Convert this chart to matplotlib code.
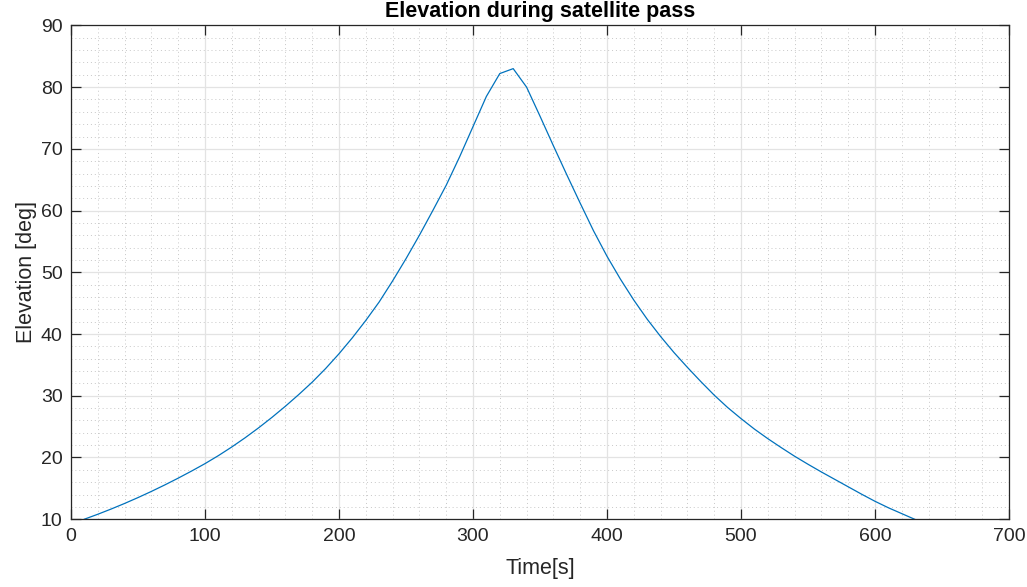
import numpy as np
import matplotlib.pyplot as plt
from matplotlib.ticker import MultipleLocator

plt.rcParams['font.family'] = ['Liberation Sans', 'DejaVu Sans']

time_s = np.arange(10, 640, 10)
elev_deg = [10.0, 10.8, 11.65, 12.55, 13.5, 14.5, 15.55, 16.65, 17.8, 19.0,
            20.3, 21.7, 23.2, 24.8, 26.5, 28.3, 30.2, 32.2, 34.4, 36.8,
            39.4, 42.2, 45.2, 48.6, 52.2, 56.0, 60.0, 64.1, 68.7, 73.6,
            78.5, 82.2, 83.0, 80.0, 75.3, 70.5, 65.8, 61.2, 56.7, 52.6,
            48.9, 45.5, 42.4, 39.6, 37.0, 34.6, 32.3, 30.1, 28.1, 26.3,
            24.6, 23.05, 21.6, 20.2, 18.9, 17.65, 16.45, 15.25, 14.05, 12.9,
            11.85, 10.9, 9.95]

fig = plt.figure(figsize=(10.27, 5.87), dpi=100)
ax = fig.add_axes([0.0691, 0.1155, 0.9134, 0.8412])

ax.plot(time_s, elev_deg, color='#0072BD', linewidth=0.9)

ax.set_xlim(0, 700)
ax.set_ylim(10, 90)
ax.xaxis.set_major_locator(MultipleLocator(100))
ax.yaxis.set_major_locator(MultipleLocator(10))
ax.xaxis.set_minor_locator(MultipleLocator(20))
ax.yaxis.set_minor_locator(MultipleLocator(2))

ax.grid(True, which='major', color='#e3e3e3', linewidth=0.9, linestyle='-')
ax.grid(True, which='minor', color='#c8c8c8', linewidth=0.7, linestyle=(0, (1, 3)))
ax.set_axisbelow(True)

for s in ax.spines.values():
    s.set_color('#262626')
    s.set_linewidth(0.9)

ax.tick_params(which='major', direction='in', length=7, width=0.9,
               top=True, right=True, colors='#262626', labelsize=14, pad=6)
ax.tick_params(which='minor', length=0, top=True, right=True)

ax.set_title('Elevation during satellite pass', fontsize=15.5, fontweight='bold',
             color='black', pad=6)
ax.set_xlabel('Time[s]', fontsize=15.5, color='#262626', labelpad=10)
ax.set_ylabel('Elevation [deg]', fontsize=15.5, color='#262626', labelpad=3)

fig.savefig('out.png', dpi=100)
